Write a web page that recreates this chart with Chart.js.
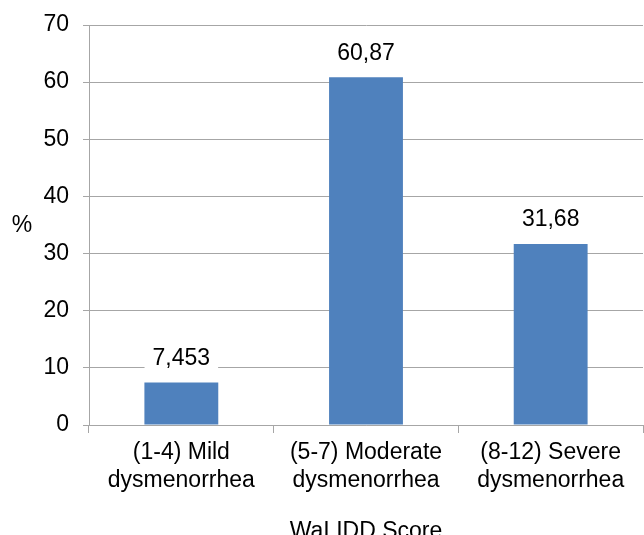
<!DOCTYPE html>
<html>
<head>
<meta charset="utf-8">
<script src="https://cdn.jsdelivr.net/npm/chart.js@4"></script>
<style>
html,body{margin:0;padding:0;background:#fff;}
#wrap{width:644px;height:535px;}
</style>
</head>
<body>
<div id="wrap"><canvas id="c" width="644" height="535"></canvas></div>
<script>
const categories = [["(1-4) Mild","dysmenorrhea"],["(5-7) Moderate","dysmenorrhea"],["(8-12) Severe","dysmenorrhea"]];
const values = [7.453, 60.87, 31.68];
const valueLabels = ["7,453", "60,87", "31,68"];
const yTicks = [0,10,20,30,40,50,60,70];
const xTitle = "WaLIDD Score";
const yTitle = "%";

const FONT = "'Liberation Sans', Arial, sans-serif";
const FS = 23;
const GRID = '#A6A6A6';

const labelPlugin = {
  id: 'labels',
  afterDatasetsDraw(chart) {
    const ctx = chart.ctx;
    const meta = chart.getDatasetMeta(0);
    ctx.save();
    ctx.font = FS + 'px ' + FONT;
    ctx.textAlign = 'center';
    ctx.textBaseline = 'middle';
    meta.data.forEach((el, i) => {
      const t = valueLabels[i];
      const w = ctx.measureText(t).width + 16;
      const cy = el.y - 25;
      ctx.fillStyle = '#fff';
      ctx.fillRect(el.x - w/2, cy - 14, w, 28);
      ctx.fillStyle = '#000';
      ctx.fillText(t, el.x, cy + 1);
    });
    ctx.fillStyle = '#000';
    ctx.fillText(yTitle, 22, 226);
    ctx.restore();
  }
};

new Chart(document.getElementById('c'), {
  type: 'bar',
  data: {
    labels: categories,
    datasets: [{
      data: values,
      backgroundColor: '#4F81BD',
      borderWidth: 0,
      categoryPercentage: 1.0,
      barPercentage: 0.4
    }]
  },
  options: {
    responsive: false,
    animation: false,
    devicePixelRatio: 1,
    layout: { padding: { top: 0, right: 1, left: 0, bottom: 0 } },
    plugins: { legend: { display: false }, tooltip: { enabled: false } },
    scales: {
      y: {
        min: 0, max: 70,
        afterBuildTicks(axis) { axis.ticks = yTicks.map(v => ({ value: v })); },
        afterFit(axis) { axis.width = 89; axis.paddingTop = 25; axis.paddingBottom = 0; },
        ticks: { color: '#000', font: { size: FS, family: FONT }, padding: 14 },
        grid: { color: GRID, lineWidth: 1, tickLength: 6, drawTicks: true },
        border: { color: GRID, width: 1 }
      },
      x: {
        offset: true,
        afterFit(axis) { axis.height = 110; },
        ticks: { color: '#000', font: { size: FS, family: FONT, lineHeight: 1.2 }, padding: 6, maxRotation: 0, autoSkip: false },
        grid: { offset: true, drawOnChartArea: false, color: GRID, tickLength: 8 },
        border: { color: GRID, width: 1 },
        title: { display: true, text: xTitle, color: '#000', font: { size: FS, family: FONT }, padding: { top: 0, bottom: -10 } }
      }
    }
  },
  plugins: [labelPlugin]
});
</script>
</body>
</html>
